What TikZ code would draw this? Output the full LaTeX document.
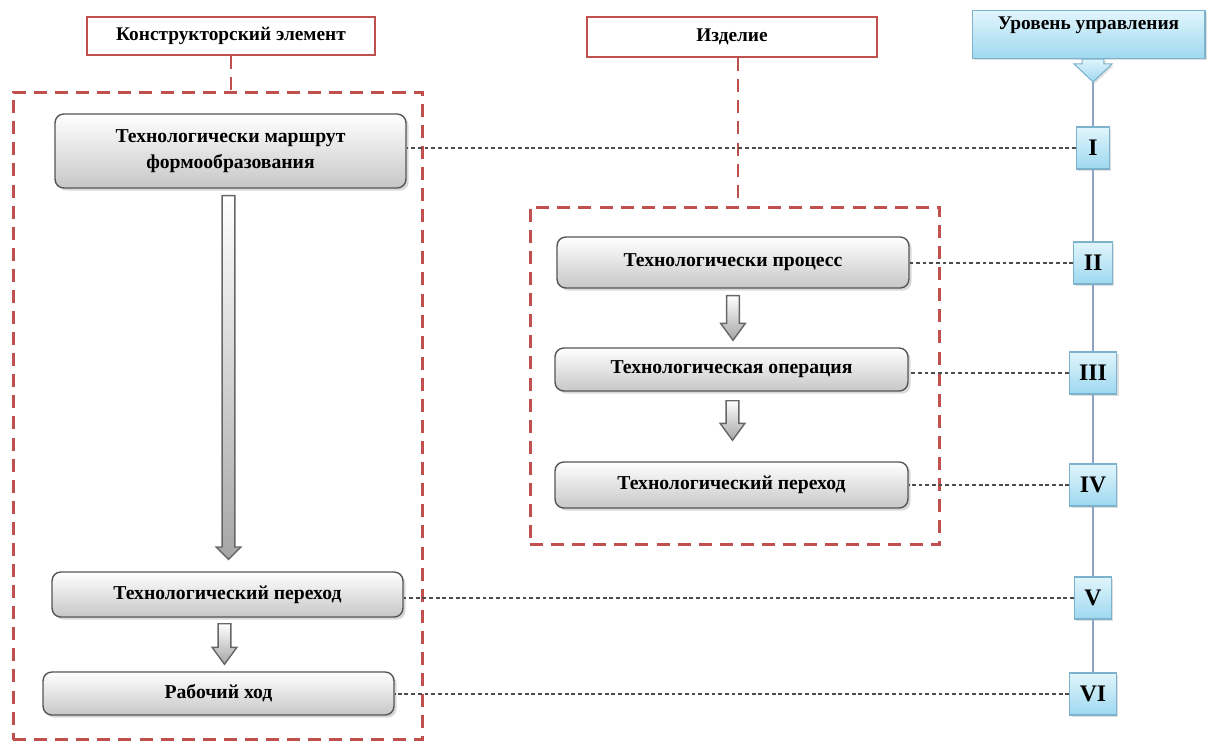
\documentclass[tikz,border=0pt]{standalone}
\usepackage{fontspec}
\setmainfont{Liberation Serif}
\usetikzlibrary{calc,shadows}

\definecolor{framered}{RGB}{192,80,77}
\definecolor{boxline}{RGB}{85,85,85}
\definecolor{bluetop}{RGB}{225,245,252}
\definecolor{bluebot}{RGB}{158,216,240}
\definecolor{blueline}{RGB}{125,178,205}
\definecolor{levelgrey}{RGB}{140,162,198}

\tikzset{
	headbox/.style={draw=framered, line width=1.4pt, fill=white, font=\bfseries\fontsize{11}{13}\selectfont},
	groupframe/.style={draw=framered, line width=1.7pt, dash pattern=on 7.4pt off 4.6pt},
	greybox/.style={draw=boxline, line width=0.8pt, rounded corners=5pt, top color=white, bottom color=black!22,
		drop shadow={shadow xshift=1.5pt, shadow yshift=-1.5pt, opacity=0.3},
		align=center, font=\bfseries\fontsize{11.2}{14.5}\selectfont},
	bluebox/.style={draw=blueline, line width=0.6pt, top color=bluetop, bottom color=bluebot,
		drop shadow={shadow xshift=1pt, shadow yshift=-1pt, opacity=0.25}},
	levelbox/.style={bluebox, minimum width=0.66cm, minimum height=0.84cm, inner xsep=0.2cm,
		font=\bfseries\fontsize{13.5}{15}\selectfont},
	levline/.style={draw=levelgrey, line width=1pt},
	levlink/.style={draw=black!70, line width=0.6pt, dash pattern=on 2.2pt off 1.6pt},
	blockarrow/.style={draw=black!60, line width=0.8pt, top color=white, bottom color=black!35}
}

% hollow down arrow between two points: #3 = head length
\newcommand\blockarrow[3]{%
	\path[blockarrow] let \p1=(#1), \p2=(#2) in
		(\x1-3.6pt,\y1) -- (\x1+3.6pt,\y1) -- (\x1+3.6pt,\y2+#3) -- (\x1+7pt,\y2+#3)
		-- (\x1,\y2) -- (\x1-7pt,\y2+#3) -- (\x1-3.6pt,\y2+#3) -- cycle;}

\begin{document}
\begin{tikzpicture}[x=0.02cm, y=-0.02cm]
\useasboundingbox (0,0) rectangle (1211,744);

% headers
\node[headbox, minimum width=5.76cm, minimum height=0.76cm] (kons) at (231,36) {Конструкторский элемент};
\node[headbox, minimum width=5.8cm, minimum height=0.8cm] (izd) at (732,37) {Изделие};
\node[bluebox, minimum width=4.66cm, anchor=north, inner ysep=0pt,
	font=\bfseries\fontsize{11}{13}\selectfont, text depth=0.58cm, text height=0.38cm] (level) at (1088.5,10) {Уровень управления};

% dashed groups
\node[groupframe, minimum width=8.2cm, minimum height=12.96cm] (leftgrp) at (218,416) {};
\node[groupframe, minimum width=8.2cm, minimum height=6.76cm] (rightgrp) at (735,376) {};
\draw[groupframe] (kons.south) -- (kons.south |- leftgrp.north);
\draw[groupframe] ([xshift=0.12cm]izd.south) -- ([xshift=0.12cm]izd.south |- rightgrp.north);

% left column
\node[greybox, minimum width=7.02cm, minimum height=1.48cm] (route) at (230.5,151) {Технологически маршрут\\формообразования};
\node[greybox, minimum width=7.02cm, minimum height=0.9cm] (lperehod) at (227.5,594.5) {Технологический переход};
\node[greybox, minimum width=7.02cm, minimum height=0.86cm] (rabhod) at (218.5,693.5) {Рабочий ход};

% right column
\node[greybox, minimum width=7.04cm, minimum height=1.02cm] (proc) at (733,262.5) {Технологически процесс};
\node[greybox, minimum width=7.06cm, minimum height=0.86cm] (oper) at (731.5,369.5) {Технологическая операция};
\node[greybox, minimum width=7.06cm, minimum height=0.92cm] (rperehod) at (731.5,485) {Технологический переход};

\coordinate (a1) at ($(route.south)+(-2,7)$);
\coordinate (b1) at ($(lperehod.north)+(0,-12)$);
\coordinate (a2) at ($(lperehod.south)+(-3,6)$);
\coordinate (b2) at ($(rabhod.north)+(6,-7)$);
\coordinate (a3) at ($(proc.south)+(0,7)$);
\coordinate (b3) at ($(oper.north)+(1,-7)$);
\coordinate (a4) at ($(oper.south)+(1,9)$);
\coordinate (b4) at ($(rperehod.north)+(1,-21)$);
\blockarrow{a1}{b1}{7pt}
\blockarrow{a2}{b2}{9.6pt}
\blockarrow{a3}{b3}{9.6pt}
\blockarrow{a4}{b4}{9.6pt}

% control levels
\foreach \n/\t/\y in {1/I/148, 2/II/263, 3/III/373, 4/IV/485, 5/V/598, 6/VI/694}
	\node[levelbox] (r\n) at (1093,\y) {\t};
\path[bluebox] let \p1=(level.south -| r1) in
	(\x1-6.2pt,\y1) -- (\x1+6.2pt,\y1) -- (\x1+6.2pt,\y1-2.8pt) -- (\x1+10.8pt,\y1-2.8pt)
	-- (\x1,\y1-13pt) coordinate (lvtip) -- (\x1-10.8pt,\y1-2.8pt) -- (\x1-6.2pt,\y1-2.8pt) -- cycle;
\draw[levline] (lvtip) -- (r1.north);
\foreach \a/\b in {1/2,2/3,3/4,4/5,5/6}
	\draw[levline] (r\a.south) -- (r\b.north);
\foreach \n/\b in {1/route,2/proc,3/oper,4/rperehod,5/lperehod,6/rabhod}
	\draw[levlink] (r\n.west) -- (r\n.west -| \b.east);

\end{tikzpicture}
\end{document}
